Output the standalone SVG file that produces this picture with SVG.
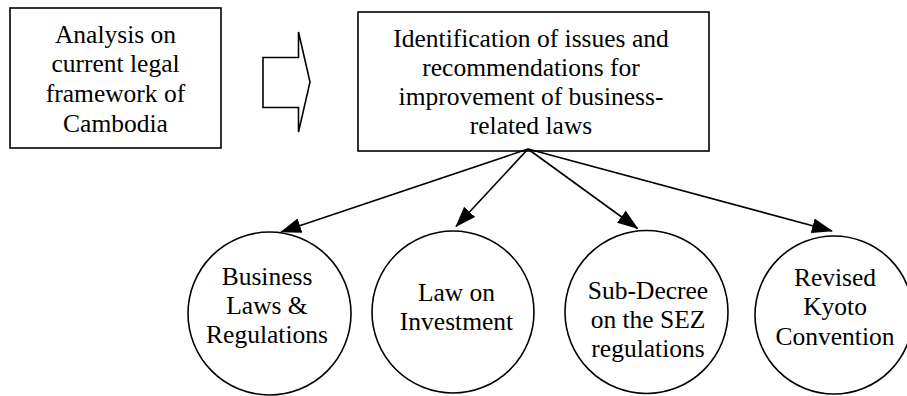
<svg xmlns="http://www.w3.org/2000/svg" width="907" height="396" viewBox="0 0 907 396">
  <style>
    .box { fill: #fff; stroke: #000; stroke-width: 1.6; }
    .circ { fill: #fff; stroke: #000; stroke-width: 1.6; }
    .lbl { font-family: "Liberation Serif", "Times New Roman", serif; font-size: 25.5px; fill: #000; text-anchor: middle; }
    .conn { stroke: #000; stroke-width: 1.6; fill: none; marker-end: url(#head); }
  </style>
  <defs>
    <marker id="head" markerUnits="userSpaceOnUse" markerWidth="21" markerHeight="15" viewBox="0 0 21 15" refX="20" refY="7.5" orient="auto">
      <path d="M0,0 L21,7.5 L0,15 z" fill="#000"/>
    </marker>
  </defs>
  <rect width="907" height="396" fill="#fff"/>

  <!-- source analysis box -->
  <g id="analysis">
    <rect class="box" x="10" y="8" width="211" height="140"/>
    <text class="lbl" x="115.5" y="43">Analysis on</text>
    <text class="lbl" x="115.5" y="72">current legal</text>
    <text class="lbl" x="115.5" y="102">framework of</text>
    <text class="lbl" x="115.5" y="132">Cambodia</text>
  </g>

  <!-- block arrow between the two boxes -->
  <g id="flow-arrow">
    <polygon points="263,57.5 298.5,57.5 298.5,32 310,82 298.5,132 298.5,107.5 263,107.5" fill="#fff" stroke="#000" stroke-width="1.6" stroke-linejoin="miter"/>
  </g>

  <!-- issues and recommendations box -->
  <g id="identification">
    <rect class="box" x="358" y="12" width="351" height="139"/>
    <text class="lbl" x="531" y="47">Identification of issues and</text>
    <text class="lbl" x="531" y="76">recommendations for</text>
    <text class="lbl" x="531" y="105">improvement of business-</text>
    <text class="lbl" x="531" y="134">related laws</text>
  </g>

  <!-- law areas -->
  <g id="business-laws">
    <circle class="circ" cx="269.5" cy="313.5" r="81.5"/>
    <text class="lbl" x="267" y="285">Business</text>
    <text class="lbl" x="267" y="314">Laws &amp;</text>
    <text class="lbl" x="267" y="343">Regulations</text>
  </g>
  <g id="law-on-investment">
    <circle class="circ" cx="453" cy="312" r="81"/>
    <text class="lbl" x="456.5" y="301">Law on</text>
    <text class="lbl" x="456.5" y="330">Investment</text>
  </g>
  <g id="sez-subdecree">
    <circle class="circ" cx="646.5" cy="312" r="81.5"/>
    <text class="lbl" x="648" y="299">Sub-Decree</text>
    <text class="lbl" x="648" y="328">on the SEZ</text>
    <text class="lbl" x="648" y="357">regulations</text>
  </g>
  <g id="kyoto-convention">
    <circle class="circ" cx="834" cy="315" r="79"/>
    <text class="lbl" x="835" y="286">Revised</text>
    <text class="lbl" x="835" y="315">Kyoto</text>
    <text class="lbl" x="835" y="345">Convention</text>
  </g>

  <!-- connectors from the recommendations box -->
  <g id="connectors">
    <line class="conn" x1="528" y1="149" x2="281" y2="232"/>
    <line class="conn" x1="528" y1="149" x2="456" y2="226.5"/>
    <line class="conn" x1="528" y1="149" x2="637.5" y2="228.5"/>
    <line class="conn" x1="528" y1="149" x2="832" y2="231"/>
  </g>
</svg>
